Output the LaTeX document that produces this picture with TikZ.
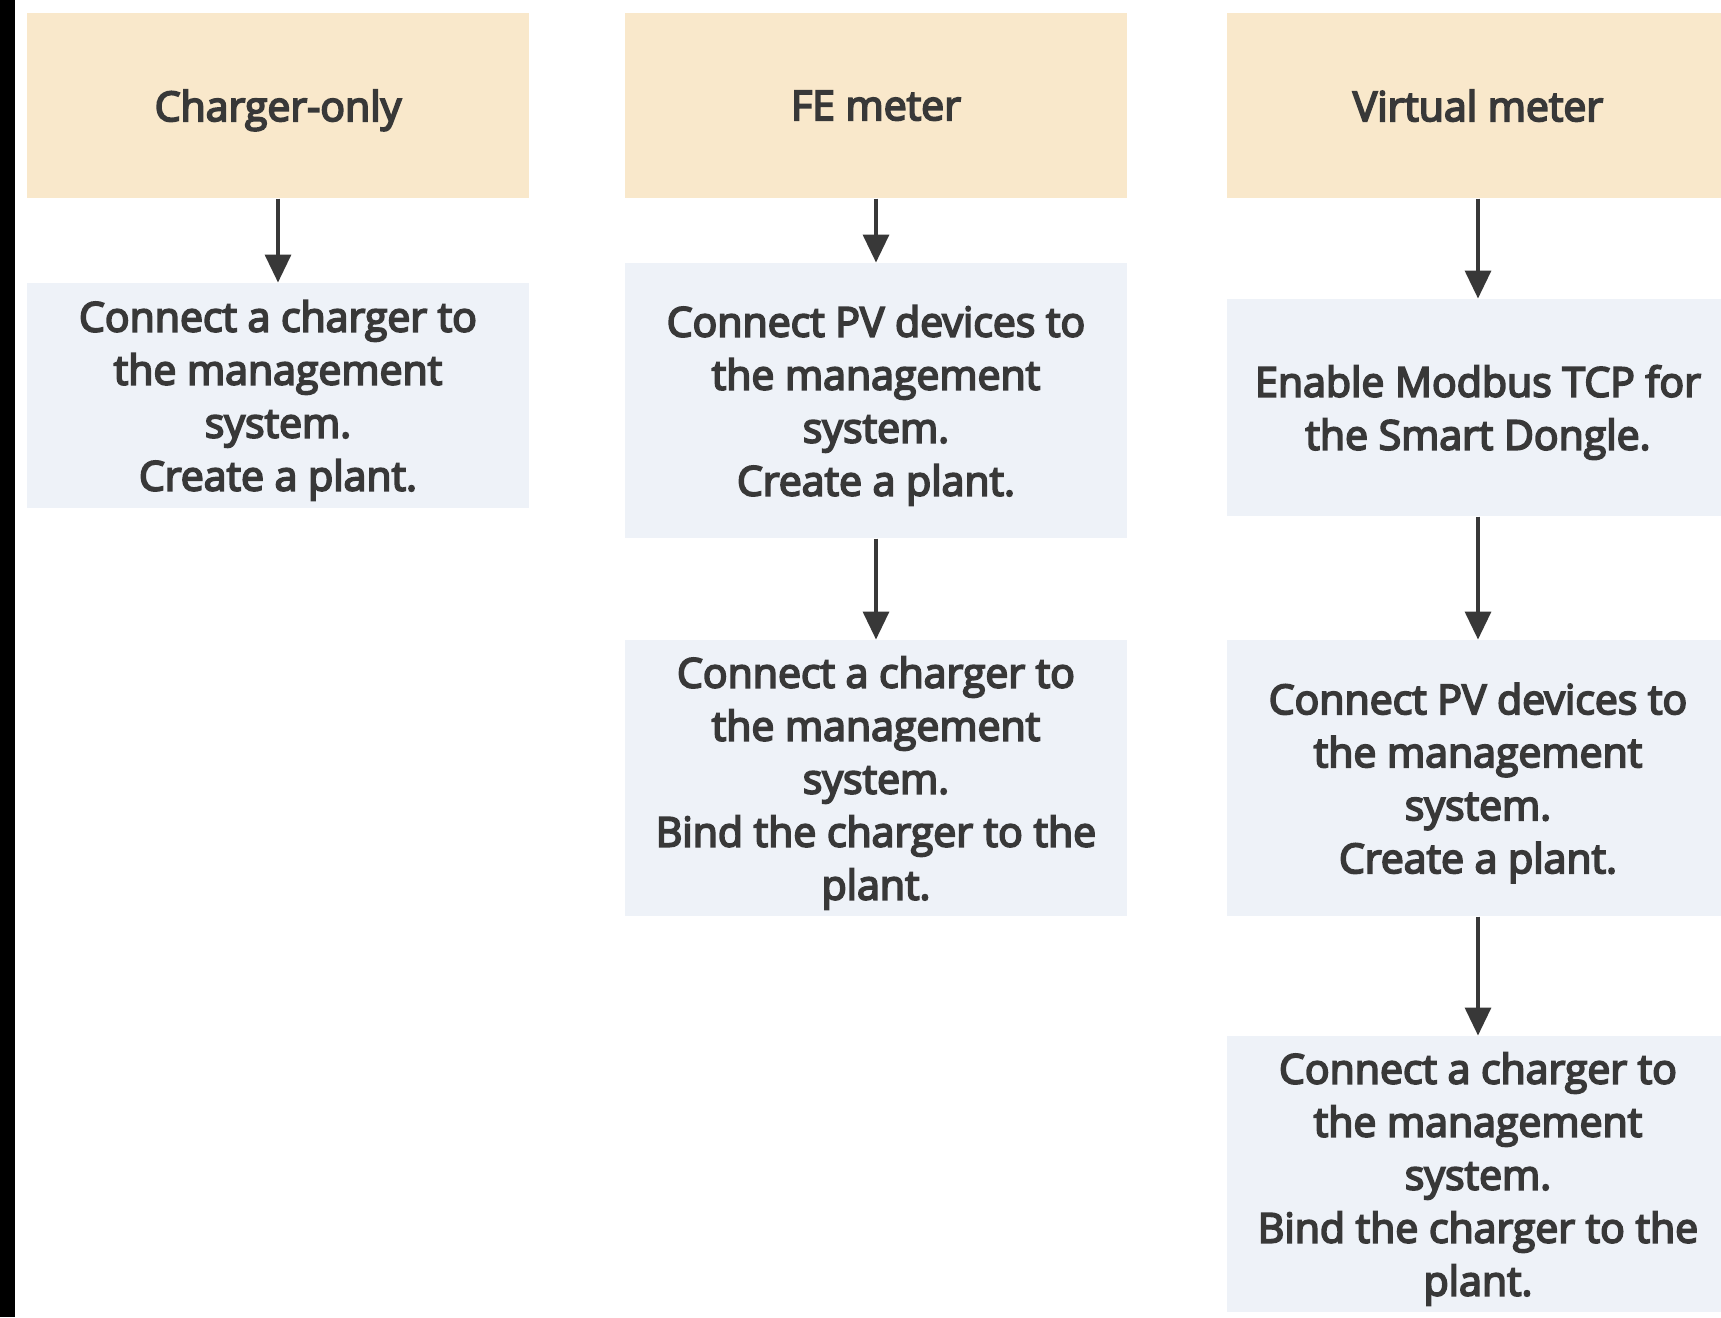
\documentclass[tikz,border=0pt]{standalone}
\usepackage{fontspec}
\newfontfamily\boxfont{Open Sans}[RawFeature={embolden=4.5}]
\usetikzlibrary{arrows.meta, positioning}
\definecolor{cbeige}{HTML}{F9E8CB}
\definecolor{cpale}{HTML}{EEF2F8}
\definecolor{cink}{HTML}{383838}
\tikzset{
  every picture/.style={line width=1pt},
  txt/.style={text=cink, align=center, inner sep=0pt, text depth=0pt, font=\boxfont\fontsize{41}{53}\selectfont},
  head/.style={txt, fill=cbeige, minimum width=502pt, minimum height=185pt},
  stepbox/.style={txt, fill=cpale, minimum width=502pt, minimum height=#1},
  stepbox/.default=276pt,
  arrow/.style={-{Triangle[width=26pt, length=28pt]}, draw=cink, line width=3.5pt},
}
\begin{document}
\begin{tikzpicture}[x=1pt, y=-1pt]
  \useasboundingbox (0,0) rectangle (1721,1317);
  \fill[white] (0,0) rectangle (1721,1317);
  \fill[black] (0,0) rectangle (15,1317);
  % three set-ups, one column each
  \node[head] (h1) at (278,105.5) {Charger-only};
  \node[head] (h2) at (876,105.5) {FE meter};
  \node[head] (h3) at (1478,105.5) {Virtual meter};
  % charger only
  \node[stepbox=225pt] (c1) at (278,395.5) {Connect a charger to\\the management\\system.\\Create a plant.};
  \draw[arrow] (h1) -- (c1);
  % FE meter
  \node[stepbox=275pt] (f1) at (876,400.5) {Connect PV devices to\\the management\\system.\\Create a plant.};
  \node[stepbox] (f2) at (876,778) {Connect a charger to\\the management\\system.\\Bind the charger to the\\plant.};
  \draw[arrow] (h2) -- (f1); \draw[arrow] (f1) -- (f2);
  % virtual meter
  \node[stepbox=217pt] (v1) at (1478,407.5) {Enable Modbus TCP for\\the Smart Dongle.};
  \node[stepbox] (v2) at (1478,778) {Connect PV devices to\\the management\\system.\\Create a plant.};
  \node[stepbox] (v3) at (1478,1174) {Connect a charger to\\the management\\system.\\Bind the charger to the\\plant.};
  \draw[arrow] (h3) -- (v1); \draw[arrow] (v1) -- (v2); \draw[arrow] (v2) -- (v3);
\end{tikzpicture}
\end{document}
